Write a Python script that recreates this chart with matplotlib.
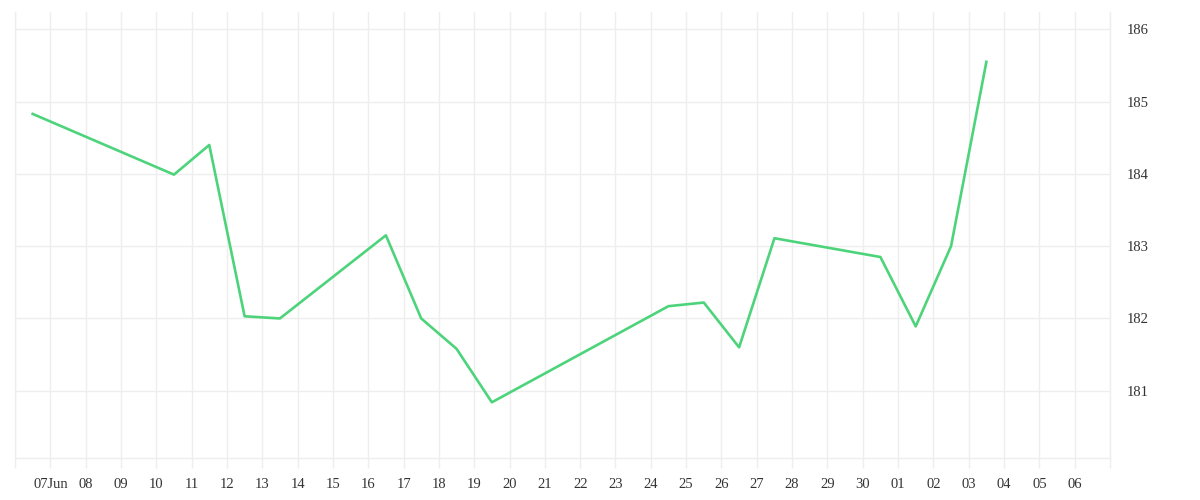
import matplotlib
matplotlib.use("Agg")
import matplotlib.pyplot as plt
import datetime as dt

# Data (timestamps at noon of each day)
dates = ["2023-06-06", "2023-06-10", "2023-06-11", "2023-06-12", "2023-06-13",
         "2023-06-16", "2023-06-17", "2023-06-18", "2023-06-19", "2023-06-24",
         "2023-06-25", "2023-06-26", "2023-06-27", "2023-06-30", "2023-07-01",
         "2023-07-02", "2023-07-03"]
values = [184.83, 183.99, 184.40, 182.03, 182.00,
          183.15, 182.00, 181.58, 180.84, 182.17,
          182.22, 181.60, 183.11, 182.85, 181.89,
          183.00, 185.55]
y_ticks = [181, 182, 183, 184, 185, 186]
y_tick_labels = ["181", "182", "183", "184", "185", "186"]

x = [dt.datetime.strptime(d, "%Y-%m-%d") + dt.timedelta(hours=12) for d in dates]

W, H = 1200, 500
fig = plt.figure(figsize=(12, 5), dpi=100)
left, right, top, bottom = 15, 1110, 12, 458.3
ax = fig.add_axes([left / W, 1 - bottom / H, (right - left) / W, (bottom - top) / H])

ax.plot(x, values, color="#4dd47b", linewidth=1.9)

ax.set_xlim(dt.datetime(2023, 6, 6), dt.datetime(2023, 7, 7))
ax.set_ylim(180.065, 186.24)

tick_days = [dt.datetime(2023, 6, 6) + dt.timedelta(days=i) for i in range(32)]
ax.set_xticks(tick_days)
labels = []
for i, d in enumerate(tick_days):
    if i == 0 or i == len(tick_days) - 1:
        labels.append("")
    elif d.day == 7 and d.month == 6:
        labels.append("07Jun")
    else:
        labels.append(d.strftime("%d"))
ax.set_xticklabels(labels)

ax.set_yticks(y_ticks)
ax.set_yticklabels(y_tick_labels)
ax.yaxis.tick_right()

grid_c = "#eeeeee"
ax.grid(True, color=grid_c, linewidth=1.0)
ax.set_axisbelow(True)
ax.spines["top"].set_visible(False)
for s in ["left", "bottom", "right"]:
    ax.spines[s].set_color(grid_c)
    ax.spines[s].set_linewidth(1.0)

ax.tick_params(axis="x", length=7.2, width=1.0, color=grid_c, pad=7,
               labelsize=10.5, labelcolor="#333333")
ax.tick_params(axis="y", length=0, pad=12, labelsize=10.5, labelcolor="#333333")
for lab in ax.get_xticklabels() + ax.get_yticklabels():
    lab.set_fontfamily("Liberation Serif")

fig.savefig("out.png", dpi=100)
